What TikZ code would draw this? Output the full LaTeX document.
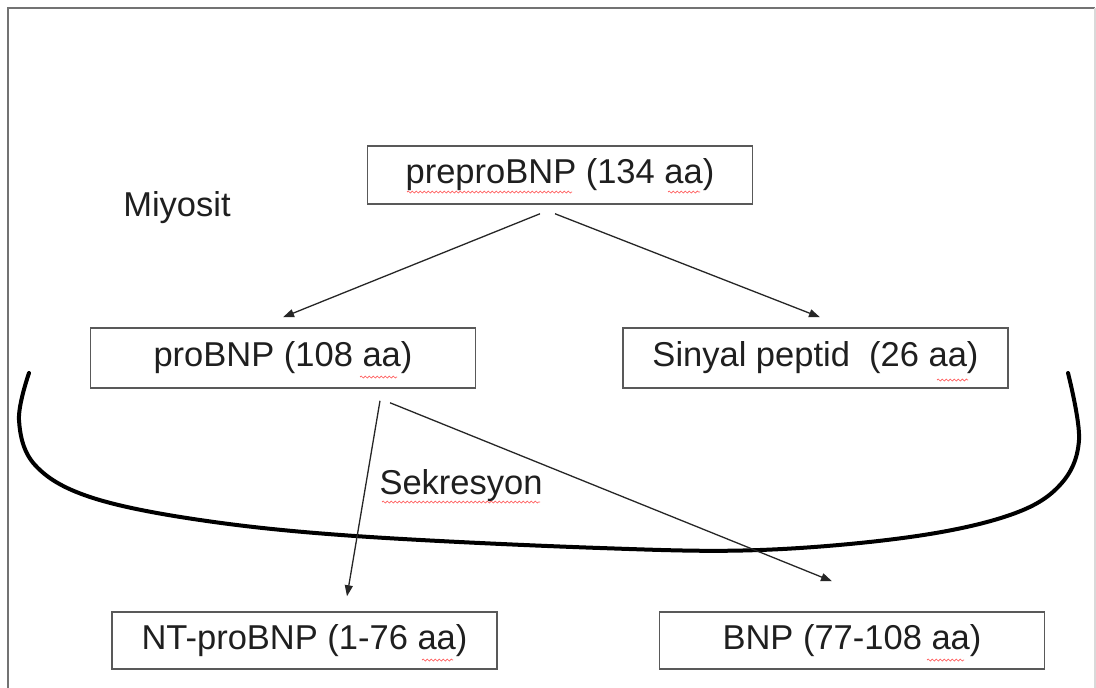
\documentclass[tikz,border=0pt]{standalone}
\usepackage{fontspec}
\setmainfont{Liberation Sans}
\usetikzlibrary{arrows.meta,decorations.pathmorphing}
\begin{document}
\begin{tikzpicture}[x=1pt,y=-1pt,
  txt/.style={text=black!88,font=\fontsize{34.5}{40}\selectfont,inner sep=0pt},
  box/.style={txt,draw=black!65,line width=1.5pt,fill=white,minimum width=385pt,minimum height=58pt},
  arr/.style={-{Triangle[length=11pt,width=8pt]},line width=1.3pt,draw=black!85},
  squig/.style={draw=red!65,line width=0.7pt,decorate,decoration={snake,amplitude=1pt,segment length=4pt}}]
\useasboundingbox (0,0) rectangle (1096,688);
\fill[white] (0,0) rectangle (1096,688);
% frame
\draw[black!55,line width=2.5pt] (8,688) -- (8,8) -- (1095,8);
\draw[black!15,line width=1.5pt] (1095,8) -- (1095,688);
% membrane curve
\draw[line width=4pt,line cap=round] plot[smooth,tension=0.6] coordinates
  {(29,373) (19,420) (35,465) (90,497) (200,520) (355,536) (600,548) (760,550) (910,537) (1010,515) (1060,485) (1079,440) (1068,373)};
% nodes
\node[box] (pre) at (560,175) {preproBNP (134 aa)};
\node[box,minimum height=60pt] (pro) at (283,358) {proBNP (108 aa)};
\node[box,minimum height=60pt] (sin) at (815.5,358) {Sinyal peptid\ \ (26 aa)};
\node[box,minimum height=57pt] (nt) at (304.5,640.5) {NT-proBNP (1-76 aa)};
\node[box,minimum height=57pt] (bnp) at (852,640.5) {BNP (77-108 aa)};
\node[txt] (miy) at (177,208) {Miyosit};
\node[txt] (sek) at (461,486) {Sekresyon};
% arrows
\draw[arr] ([xshift=-20pt,yshift=-9pt]pre.south) -- ([yshift=10pt]pro.north);
\draw[arr] ([xshift=-5pt,yshift=-9pt]pre.south) -- ([xshift=4.5pt,yshift=10pt]sin.north);
\draw[arr] ([xshift=97pt,yshift=-12pt]pro.south) -- ([xshift=42.5pt,yshift=15pt]nt.north);
\draw[arr] ([xshift=107pt,yshift=-14pt]pro.south) -- ([xshift=-20pt,yshift=30pt]bnp.north);
% spell-check marks
\draw[squig] (407,192) -- (572,192);
\draw[squig] (668,192) -- (700,192);
\draw[squig] (360,377) -- (397,377);
\draw[squig] (937,380) -- (968,380);
\draw[squig] (422,660) -- (453,660);
\draw[squig] (927,660) -- (964,660);
\draw[squig] (382,502) -- (540,502);
\end{tikzpicture}
\end{document}
